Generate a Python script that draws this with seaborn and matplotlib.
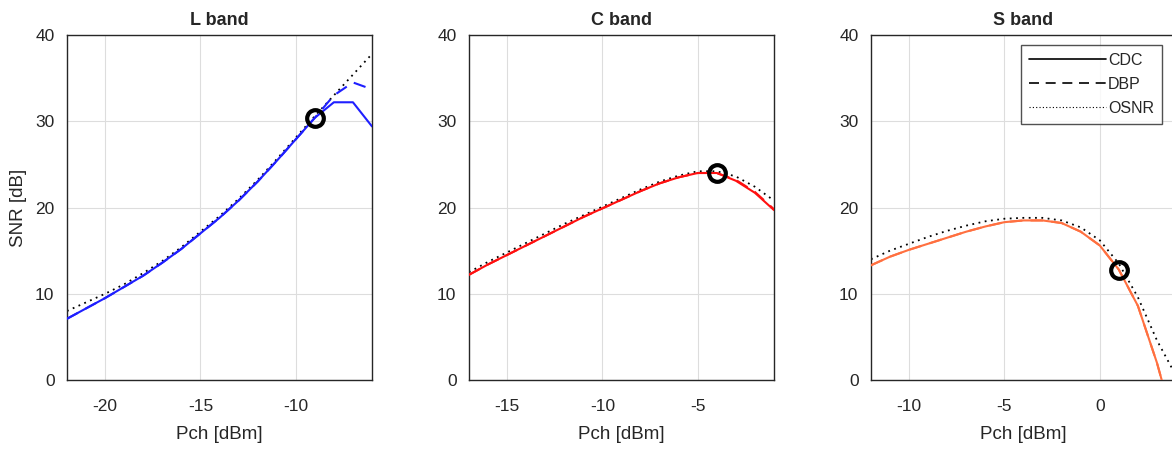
import numpy as np
import pandas as pd
import matplotlib
matplotlib.use("Agg")
import matplotlib.pyplot as plt
from matplotlib.lines import Line2D
import seaborn as sns

# ---------------- data ----------------
pch_L = [-22, -21, -20, -19, -18, -17, -16, -15, -14, -13, -12, -11, -10, -9, -8, -7, -6]
cdc_L = [7.1, 8.3, 9.5, 10.8, 12.1, 13.6, 15.2, 17.0, 18.8, 20.8, 23.0, 25.4, 27.9, 30.4, 32.2, 32.2, 29.4]
dbp_L = [7.1, 8.3, 9.5, 10.8, 12.1, 13.6, 15.2, 17.0, 18.8, 20.8, 23.0, 25.4, 27.9, 30.4, 33.0, 34.5, 33.7]
osnr_L = [8.0, 9.0, 10.0, 11.1, 12.4, 13.8, 15.4, 17.2, 19.0, 21.0, 23.2, 25.6, 28.1, 30.6, 33.0, 35.4, 37.8]

pch_C = [-17, -16, -15, -14, -13, -12, -11, -10, -9, -8, -7, -6, -5, -4, -3, -2, -1]
cdc_C = [12.2, 13.4, 14.5, 15.6, 16.7, 17.8, 18.9, 19.9, 20.9, 21.9, 22.8, 23.5, 24.0, 24.0, 23.1, 21.7, 19.7]
dbp_C = [12.2, 13.4, 14.5, 15.6, 16.7, 17.8, 18.9, 19.9, 20.9, 21.9, 22.8, 23.5, 24.0, 24.0, 23.2, 21.8, 19.8]
osnr_C = [12.5, 13.7, 14.8, 15.9, 17.0, 18.1, 19.1, 20.1, 21.1, 22.1, 23.0, 23.7, 24.2, 24.2, 23.6, 22.4, 20.8]

pch_S = [-12, -11, -10, -9, -8, -7, -6, -5, -4, -3, -2, -1, 0, 1, 2, 3, 4]
cdc_S = [13.3, 14.3, 15.1, 15.8, 16.5, 17.2, 17.8, 18.3, 18.5, 18.5, 18.2, 17.2, 15.6, 12.8, 8.6, 2.0, -6.0]
dbp_S = [13.3, 14.3, 15.1, 15.8, 16.5, 17.2, 17.8, 18.3, 18.5, 18.5, 18.2, 17.2, 15.6, 12.8, 8.6, 2.0, -6.0]
osnr_S = [14.0, 15.0, 15.8, 16.6, 17.3, 17.9, 18.4, 18.7, 18.8, 18.8, 18.5, 17.7, 16.2, 13.5, 9.6, 4.6, 0.5]

# optimum launch power markers
opt_x = [-9.0, -4.0, 1.0]
opt_y = [30.4, 24.0, 12.8]

bands = ["L band", "C band", "S band"]
colors = ["#1f1fff", "#ff1010", "#ff7040"]
xlims = [(-22, -6), (-17, -1), (-12, 4)]
xticks = [[-20, -15, -10], [-15, -10, -5], [-10, -5, 0]]

curves = [
    (pch_L, cdc_L, dbp_L, osnr_L),
    (pch_C, cdc_C, dbp_C, osnr_C),
    (pch_S, cdc_S, dbp_S, osnr_S),
]

# ---------------- plot ----------------
sns.set_style("white")
plt.rcParams["font.family"] = ["Liberation Sans", "DejaVu Sans"]
plt.rcParams["axes.unicode_minus"] = False

fig = plt.figure(figsize=(11.72, 4.49), dpi=100)
lefts = [67 / 1172, 469 / 1172, 871 / 1172]

for i, band in enumerate(bands):
    ax = fig.add_axes([lefts[i], 1 - 380 / 449, 305 / 1172, 345 / 449])
    x, cdc, dbp, osnr = curves[i]
    df = pd.DataFrame({"Pch": x, "CDC": cdc, "DBP": dbp, "OSNR": osnr})

    sns.lineplot(data=df, x="Pch", y="OSNR", ax=ax, color="black",
                 linestyle=(0, (1, 2.5)), linewidth=1.3, zorder=2)
    sns.lineplot(data=df, x="Pch", y="CDC", ax=ax, color=colors[i],
                 linewidth=1.5, zorder=3)
    sns.lineplot(data=df, x="Pch", y="DBP", ax=ax, color=colors[i],
                 linestyle=(0, (6, 4)), linewidth=1.5, zorder=3)
    ax.plot(opt_x[i], opt_y[i], "o", mfc="none", mec="black", ms=12, mew=3, zorder=5)

    ax.set_xlim(*xlims[i])
    ax.set_ylim(0, 40)
    ax.set_xticks(xticks[i])
    ax.set_yticks([0, 10, 20, 30, 40])
    ax.grid(True, color="#dddddd", linewidth=0.8)
    ax.tick_params(axis="x", labelsize=12.5, colors="#262626", length=0, pad=14)
    ax.tick_params(axis="y", labelsize=12.5, colors="#262626", length=0, pad=9)
    for s in ax.spines.values():
        s.set_color("#262626")
        s.set_linewidth(1.0)
    ax.set_title(band, fontsize=13, fontweight="bold", pad=7)
    ax.set_xlabel("Pch [dBm]", fontsize=13.5, color="#262626", labelpad=8)
    if i == 0:
        ax.set_ylabel("SNR [dB]", fontsize=13.5, color="#262626", labelpad=6)
    else:
        ax.set_ylabel("")

    if i == 2:
        handles = [
            Line2D([], [], color="black", linewidth=1.2),
            Line2D([], [], color="black", linewidth=1.2, linestyle=(0, (6, 4))),
            Line2D([], [], color="black", linewidth=0.8, linestyle=(0, (1, 2))),
        ]
        leg = ax.legend(handles, ["CDC", "DBP", "OSNR"], loc="upper right",
                        bbox_to_anchor=(0.97, 0.985), fontsize=11.5, frameon=True,
                        fancybox=False, handlelength=4.8, handletextpad=0.15,
                        borderpad=0.5, labelspacing=0.55, borderaxespad=0.3)
        leg.get_frame().set_edgecolor("#262626")
        leg.get_frame().set_linewidth(1.0)

fig.savefig("out.png", dpi=100)
